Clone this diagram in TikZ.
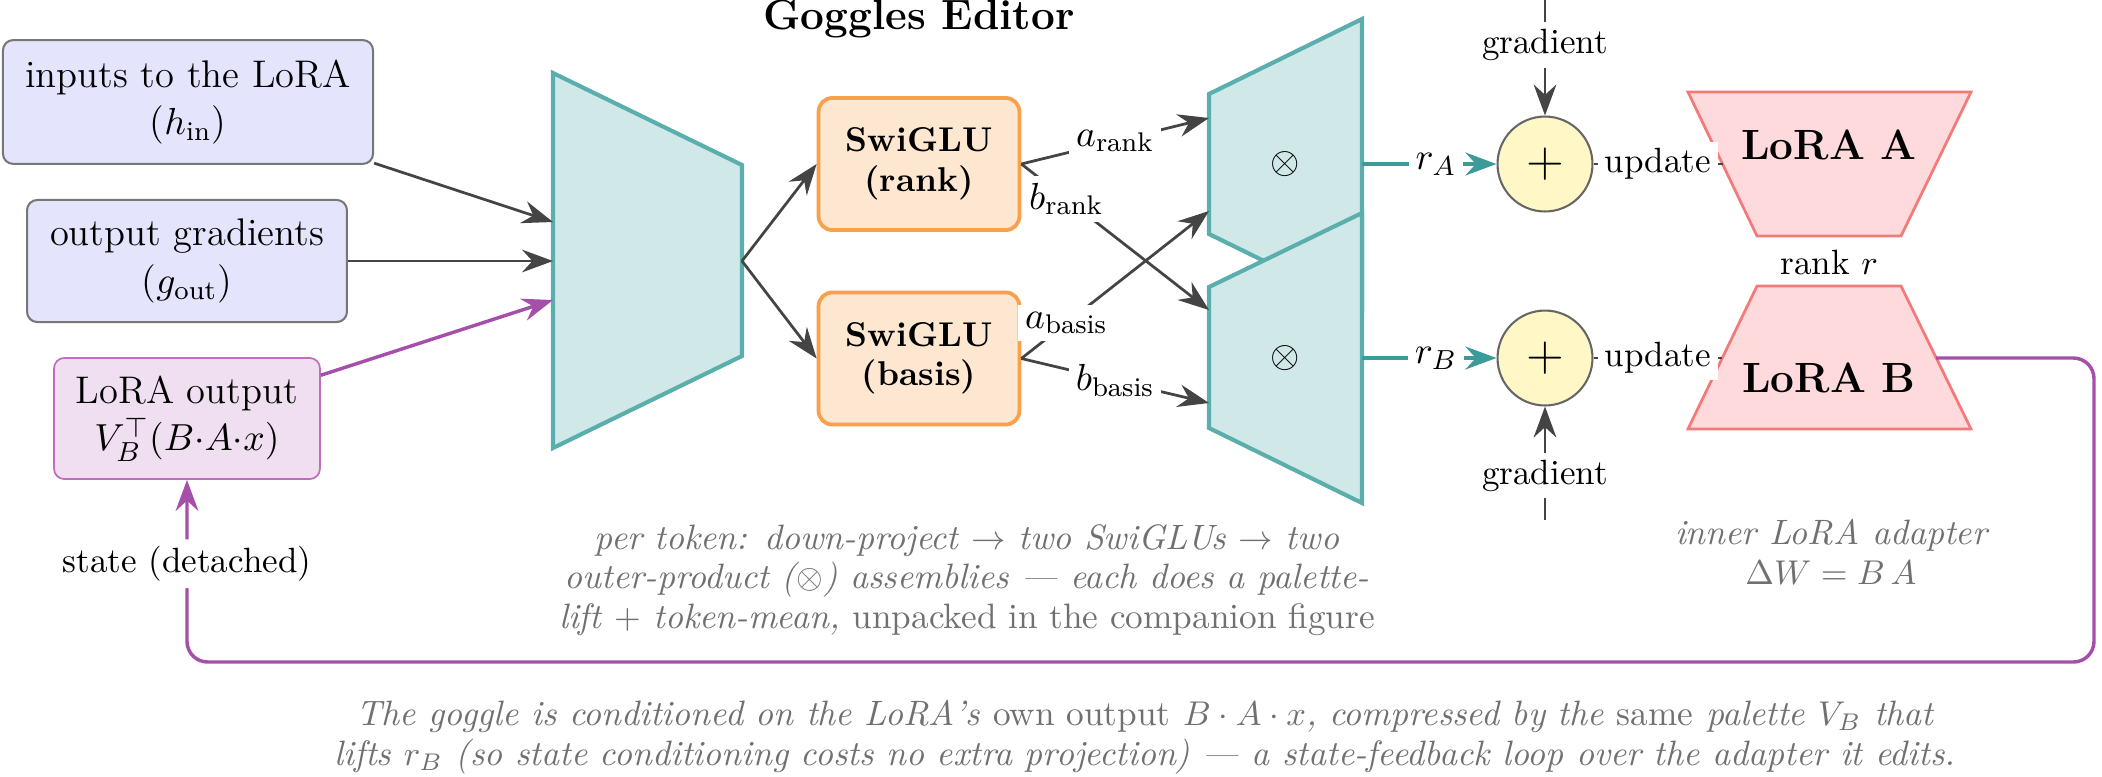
\documentclass[tikz,border=0pt]{standalone}
\usepackage{fontspec}
\usetikzlibrary{arrows.meta,calc}
\definecolor{inblue}{HTML}{E4E4FC}
\definecolor{boxgray}{HTML}{777777}
\definecolor{purpfill}{HTML}{F0DFF0}
\definecolor{purpb}{HTML}{BE6EBE}
\definecolor{purpl}{HTML}{A54FAA}
\definecolor{peach}{HTML}{FDE7D0}
\definecolor{orangeb}{HTML}{F8A04A}
\definecolor{tealfill}{HTML}{D0E8E8}
\definecolor{tealb}{HTML}{5AAEAC}
\definecolor{tealarr}{HTML}{3A9B98}
\definecolor{sumfill}{HTML}{FFF8C6}
\definecolor{sumb}{HTML}{666666}
\definecolor{pinkfill}{HTML}{FFDADD}
\definecolor{pinkb}{HTML}{F47A7A}
\definecolor{darkg}{HTML}{444444}
\definecolor{capgray}{HTML}{707070}
\begin{document}
\begin{tikzpicture}[x=0.2907pt, y=-0.2907pt,
  every node/.style={font=\fontsize{11.2}{13.9}\selectfont},
  >={Stealth[length=9pt,width=6.6pt,inset=3pt]},
  inbox/.style={draw=boxgray, fill=inblue, line width=0.6pt, rounded corners=3pt, align=center, inner sep=0pt},
  statebox/.style={draw=purpb, fill=purpfill, line width=0.5pt, rounded corners=3pt, align=center, inner sep=0pt},
  swbox/.style={draw=orangeb, fill=peach, line width=1.1pt, rounded corners=4pt, align=center, inner sep=0pt,
     minimum width=58.4pt, minimum height=38.4pt, font=\bfseries\fontsize{10}{11.5}\selectfont},
  trap/.style={draw=tealb, fill=tealfill, line width=1.2pt, line join=miter},
  lora/.style={draw=pinkb, fill=pinkfill, line width=0.8pt},
  sumnode/.style={circle, draw=sumb, fill=sumfill, line width=0.6pt, minimum size=27.6pt, inner sep=0pt, font=\fontsize{14.4}{17}\selectfont},
  darr/.style={->, draw=darkg, line width=0.8pt},
  tarr/.style={->, draw=tealarr, line width=1.4pt},
  parr/.style={->, draw=purpl, line width=1pt, rounded corners=6pt},
  lbl/.style={fill=white, inner sep=2pt},
  sml/.style={font=\fontsize{10.2}{12.2}\selectfont},
  captext/.style={text=capgray, align=center, font=\fontsize{10.25}{11.5}\selectfont\itshape}
]
\useasboundingbox (0,0) rectangle (2102,776);

% title
\node[anchor=base, font=\bfseries\fontsize{12.3}{14.5}\selectfont] (title) at (919,29) {Goggles Editor};

% input boxes
\node[inbox, minimum width=107.6pt, minimum height=36pt] (hin) at (188,102) {inputs to the LoRA\\($h_{\mathrm{in}}$)};
\node[inbox, minimum width=93pt, minimum height=35.5pt] (gout) at (187,261) {output gradients\\($g_{\mathrm{out}}$)};
\node[statebox, minimum width=77.3pt, minimum height=35.2pt] (state) at (187,418.5) {LoRA output\\$V_B^{\top}(B{\cdot}A{\cdot}x)$};

% encoder trapezoid
\draw[trap] (553,73) -- (742,165) -- (742,356) -- (553,448) -- cycle;
\coordinate (encIn1) at (553,222);
\coordinate (encIn2) at (553,261);
\coordinate (encIn3) at (553,300);
\coordinate (encOut) at (742,261);

% SwiGLU boxes
\node[swbox] (rank) at (919,164) {SwiGLU\\(rank)};
\node[swbox] (basis) at (919,358.5) {SwiGLU\\(basis)};

% outer-product trapezoids
\draw[trap] (1209,94) -- (1362,19) -- (1362,309) -- (1209,234) -- cycle;
\draw[trap] (1209,287) -- (1362,213) -- (1362,503) -- (1209,428) -- cycle;
\node (multA) at (1285,164) {$\otimes$};
\node (multB) at (1285,358) {$\otimes$};
\coordinate (mAin1) at (1209,118);
\coordinate (mAin2) at (1209,211);
\coordinate (mBin1) at (1209,310);
\coordinate (mBin2) at (1209,403);
\coordinate (mAout) at (1362,164);
\coordinate (mBout) at (1362,358);

% sums
\node[sumnode] (sumA) at (1545,164) {$+$};
\node[sumnode] (sumB) at (1545,358) {$+$};
\coordinate (gtop) at (1545,0);
\coordinate (gbot) at (1545,520);

% LoRA A and B
\draw[lora] (1688,92) -- (1971,92) -- (1901,236) -- (1757,236) -- cycle;
\draw[lora] (1757,286) -- (1901,286) -- (1971,429) -- (1688,429) -- cycle;
\node[font=\bfseries\fontsize{12.3}{14.5}\selectfont] (loraA) at (1829,145) {LoRA A};
\node[font=\bfseries\fontsize{12.3}{14.5}\selectfont] (loraB) at (1829,378) {LoRA B};
\coordinate (loraAin) at (1722.5,164);
\coordinate (loraBin) at (1722.3,358);
\coordinate (loraBout) at (1936,358);
\node[sml] (rankr) at (1829,263) {rank $r$};

% connectors
\draw[darr] (hin) -- (encIn1);
\draw[darr] (gout) -- (encIn2);
\draw[->, draw=purpl, line width=1pt] (state) -- (encIn3);
\draw[darr] (encOut) -- (rank.west);
\draw[darr] (encOut) -- (basis.west);
\draw[darr] (rank.east) -- node[lbl, pos=0.5] {$a_{\mathrm{rank}}$} (mAin1);
\draw[darr] (rank.east) -- node[lbl, pos=0.24] {$b_{\mathrm{rank}}$} (mBin1);
\draw[darr] (basis.east) -- node[lbl, pos=0.24] {$a_{\mathrm{basis}}$} (mAin2);
\draw[darr] (basis.east) -- node[lbl, pos=0.5] {$b_{\mathrm{basis}}$} (mBin2);
\draw[tarr] (mAout) -- node[lbl, pos=0.55] {$r_A$} (sumA);
\draw[tarr] (mBout) -- node[lbl, pos=0.55] {$r_B$} (sumB);
\draw[darr] (gtop) -- node[lbl, sml, pos=0.39] {gradient} (sumA);
\draw[darr] (gbot) -- node[lbl, sml, pos=0.39] {gradient} (sumB);
\draw[draw=darkg, line width=0.8pt] (sumA) -- node[lbl, sml] {update} (loraAin);
\draw[draw=darkg, line width=0.8pt] (sumB) -- node[lbl, sml] {update} (loraBin);
\draw[parr] (loraBout) -- (2094,358) -- (2094,662) -- (187,662) -- node[lbl, sml, pos=0.54] {state (detached)} (state.south);

% captions
\node[captext] (cap1) at (967,580) {per token: down-project $\to$ two SwiGLUs $\to$ two\\outer-product ($\otimes$) assemblies --- each does a palette-\\lift $+$ token-mean, \emph{unpacked in the companion figure}};
\node[captext] (cap2) at (1831,552) {inner LoRA adapter\\$\Delta W = B\,A$};
\node[captext] (cap3) at (1145,737) {The goggle is conditioned on the LoRA's \emph{own output} $B\cdot A\cdot x$, compressed by the \emph{same} palette $V_B$ that\\lifts $r_B$ (so state conditioning costs no extra projection) --- a state-feedback loop over the adapter it edits.};
\end{tikzpicture}
\end{document}
